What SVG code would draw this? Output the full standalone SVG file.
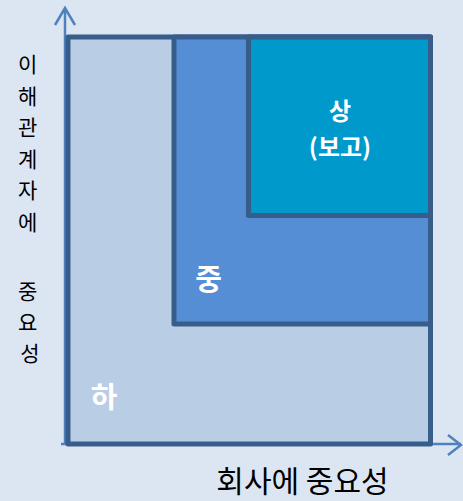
<svg xmlns="http://www.w3.org/2000/svg" width="463" height="501" viewBox="0 0 463 501">
<style>
.box{stroke:#385D8A;stroke-width:5;stroke-linejoin:round}
.axis{stroke:#4F81BD;stroke-width:2.5;fill:none}
.lab{font-family:"Noto Sans CJK KR","Noto Sans",sans-serif;fill:#000000}
.in{font-family:"Noto Sans CJK KR","Noto Sans",sans-serif;fill:#FFFFFF;font-weight:bold}
</style>
<rect width="463" height="501" fill="#DCE6F2"/>
<g id="connectors">
<path class="axis" d="M65,444 V8 M55,25 L65,8 L75,25"/>
<path class="axis" d="M61,444 H461 M448,435 L461,445 L448,455"/>
</g>
<g id="node-low">
<rect class="box" x="68" y="37" width="362.5" height="407" fill="#B9CDE5"/>
<text class="in" x="104" y="408" font-size="29" text-anchor="middle">하</text>
</g>
<g id="node-mid">
<rect class="box" x="174" y="37" width="256.5" height="287" fill="#558ED5"/>
<text class="in" x="208.5" y="290" font-size="29" text-anchor="middle">중</text>
</g>
<g id="node-high">
<rect class="box" x="248.5" y="37" width="182" height="178.5" fill="#0099CC"/>
<text class="in" x="340" y="120" font-size="24" text-anchor="middle">상</text>
<text class="in" x="340" y="156" font-size="24" text-anchor="middle">(보고)</text>
</g>
<g id="labels">
<text class="lab" font-size="21" text-anchor="middle" x="30">
<tspan x="30" y="72">이</tspan>
<tspan x="30" y="103.5">해</tspan>
<tspan x="30" y="135">관</tspan>
<tspan x="30" y="166.5">계</tspan>
<tspan x="30" y="198">자</tspan>
<tspan x="30" y="230">에</tspan>
<tspan x="30" y="299">중</tspan>
<tspan x="30" y="330">요</tspan>
<tspan x="30" y="361">성</tspan>
</text>
<text class="lab" x="302.5" y="492" font-size="30" text-anchor="middle">회사에 중요성</text>
</g>
</svg>
